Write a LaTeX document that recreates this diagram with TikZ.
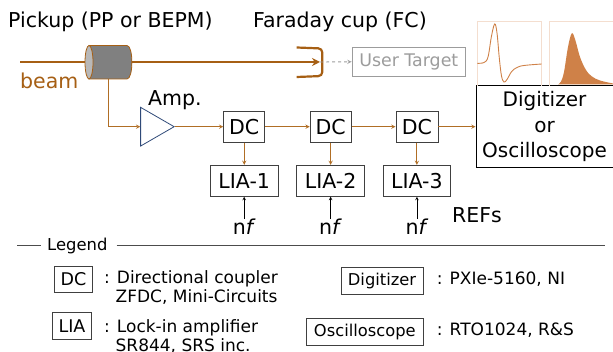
\documentclass[tikz,border=0pt]{standalone}
\usepackage{fontspec}
\setmainfont{DejaVu Sans}
\usetikzlibrary{shapes.geometric,arrows.meta}
\definecolor{beamcol}{HTML}{A65F14}
\definecolor{sigcol}{HTML}{B06E25}
\definecolor{ampcol}{HTML}{2F4A78}
\definecolor{tracecol}{HTML}{CF8148}
\definecolor{framecol}{HTML}{F4DECF}
\definecolor{usercol}{HTML}{9C9C9C}
\tikzset{
    big/.style={font=\fontsize{20.5}{25.5}\selectfont},
    blockbox/.style={draw=black!75,line width=0.8pt,inner sep=0pt,big},
    legbox/.style={draw=black!75,line width=0.7pt,inner sep=0pt,font=\fontsize{16.3}{18}\selectfont},
    legtext/.style={anchor=west,inner sep=0pt,font=\fontsize{17}{19}\selectfont},
    sig/.style={draw=sigcol,line width=0.9pt,->,>=stealth},
    frame/.style={draw=framecol,line width=0.8pt},
}
\begin{document}
\begin{tikzpicture}[x=1pt,y=-1pt]
    \useasboundingbox (0,0) rectangle (613,352);
    \node[big,anchor=west,inner sep=0pt] (pickuplabel) at (8,22) {Pickup (PP or BEPM)};
    \node[big,anchor=west,inner sep=0pt] (fclabel) at (253,22) {Faraday cup (FC)};
    \node[big,anchor=west,inner sep=0pt,text=beamcol] (beamlabel) at (20,81) {beam};
    \node[big,anchor=west,inner sep=0pt] (amplabel) at (148,100) {Amp.};
    \coordinate (beamstart) at (20,62);
    \coordinate (beamend) at (320,62);
    \coordinate (pickupout) at (108.3,79);
    \draw [beamcol,line width=1.3pt,-{Stealth[length=8pt,width=8pt]}] (beamstart)--(beamend);
    \draw [beamcol,line width=0.8pt,fill=black!50] (89,45.5)--(127,45.5) .. controls (133.5,45.5) and (133.5,79) .. (127,79)--(89,79)--cycle;
    \draw [beamcol,line width=0.8pt,fill=black!28] (89,62.25) ellipse [x radius=4,y radius=16.75];
    \draw [beamcol,line width=2.2pt,rounded corners=4pt] (296.7,47.5)--(322.3,48.5)--(322.3,76)--(296.7,77);
    \node[draw=usercol,text=usercol,line width=0.9pt,font=\fontsize{17.4}{20}\selectfont,minimum width=113.5pt,minimum height=29.5pt,inner sep=0pt] (target) at (408.8,61.8) {User Target};
    \draw [usercol,line width=0.9pt,dashed,->,>=stealth] (beamend)--(target.west);
    \node[isosceles triangle,isosceles triangle stretches,shape border rotate=0,draw=ampcol,line width=0.8pt,minimum width=38.7pt,minimum height=33.5pt,inner sep=0pt] (amp) at (151.8,126.7) {};
    \node[blockbox,minimum width=41pt,minimum height=31pt] (DC1) at (244.2,126.7) {DC};
    \node[blockbox,minimum width=41pt,minimum height=31pt] (DC2) at (330.6,126.7) {DC};
    \node[blockbox,minimum width=42pt,minimum height=31pt] (DC3) at (416.9,126.7) {DC};
    \node[blockbox,minimum width=67.7pt,minimum height=31pt] (LIA1) at (244.2,180.8) {LIA-1};
    \node[blockbox,minimum width=67.7pt,minimum height=31pt] (LIA2) at (330.6,180.8) {LIA-2};
    \node[blockbox,minimum width=67.7pt,minimum height=31pt] (LIA3) at (416.9,180.8) {LIA-3};
    \node[draw=black,line width=0.9pt,big,font=\fontsize{20}{25.5}\selectfont,align=center,minimum width=137pt,minimum height=82pt,inner sep=0pt] (scope) at (544.5,126.7) {Digitizer\\or\\Oscilloscope};
    \draw [sig] (pickupout)|-(amp.west);
    \draw [sig] (amp.east)--(DC1);
    \draw [sig] (DC1)--(DC2);
    \draw [sig] (DC2)--(DC3);
    \draw [sig] (DC3)--(scope);
    \draw [sig] (DC1)--(LIA1);
    \draw [sig] (DC2)--(LIA2);
    \draw [sig] (DC3)--(LIA3);
    \node[big,inner sep=0pt] (nf1) at (244.2,227) {n\textit{f}};
    \node[big,inner sep=0pt] (nf2) at (330.6,227) {n\textit{f}};
    \node[big,inner sep=0pt] (nf3) at (416.9,227) {n\textit{f}};
    \node[big,anchor=west,inner sep=0pt] (refs) at (452,215) {REFs};
    \draw [->,>=stealth,line width=0.6pt] (nf1.north)--(LIA1.south);
    \draw [->,>=stealth,line width=0.6pt] (nf2.north)--(LIA2.south);
    \draw [->,>=stealth,line width=0.6pt] (nf3.north)--(LIA3.south);
    \draw [frame] (477.3,85.7)--(477.3,21.7)--(541.7,21.7)--(541.7,85.7);
    \draw [frame] (549.3,85.7)--(549.3,21.7)--(613,21.7);
    \draw [tracecol,line width=0.9pt] plot [smooth,tension=0.6] coordinates {(477.3,63.3) (484,62.5) (488,57) (491.5,36) (494.7,24) (497,33) (499.3,58) (501.5,76) (504,82) (507,79.5) (511.7,71.5) (517,67.5) (524,65.5) (541.7,64)};
    \fill [tracecol] plot [smooth,tension=0.6] coordinates {(558,84.5) (561,81.5) (564,72) (568,47) (571.7,33.5) (575,39) (580,57) (586,70) (592,76.5) (600,80.5) (613,83.5)}--(613,84.5)--cycle;
    \node[legtext,font=\fontsize{16.4}{18}\selectfont] (legend) at (47,245.5) {Legend};
    \coordinate (legstart) at (17,245.5);
    \coordinate (legleft) at (41,245.5);
    \coordinate (legright) at (116.7,245.5);
    \coordinate (legend2) at (605,245.5);
    \draw [black!70,line width=0.7pt] (legstart)--(legleft);
    \draw [black!70,line width=0.7pt] (legright)--(legend2);
    \node[legbox,font=\fontsize{17.5}{19}\selectfont,minimum width=38pt,minimum height=26.5pt] (legDC) at (73.5,279.3) {DC};
    \node[legbox,font=\fontsize{17.5}{19}\selectfont,minimum width=39.5pt,minimum height=26.5pt] (legLIA) at (72,326) {LIA};
    \node[legbox,minimum width=82pt,minimum height=26.5pt] (legdig) at (382,281) {Digitizer};
    \node[legbox,minimum width=116.5pt,minimum height=26.5pt] (legosc) at (364.8,331.7) {Oscilloscope};
    \node[legtext] (dctext) at (103.8,279) {: Directional coupler};
    \node[legtext] (dctext2) at (115.5,297) {ZFDC, Mini-Circuits};
    \node[legtext] (liatext) at (103.8,328) {: Lock-in amplifier};
    \node[legtext] (liatext2) at (115.5,346) {SR844, SRS inc.};
    \node[legtext] (digtext) at (436.6,279) {: PXIe-5160, NI};
    \node[legtext] (osctext) at (436.6,330) {: RTO1024, R\&S};
\end{tikzpicture}
\end{document}
